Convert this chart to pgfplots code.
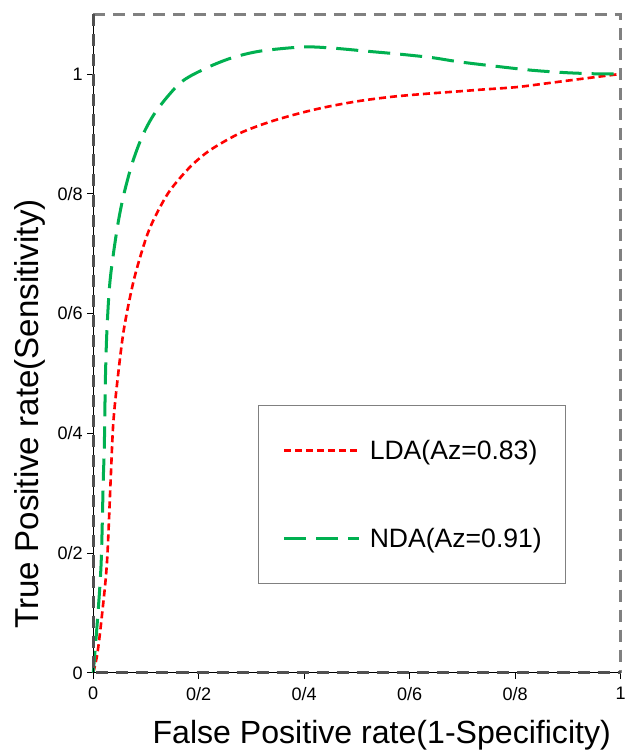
\documentclass[border=0pt]{standalone}
\usepackage{pgfplots}
\pgfplotsset{compat=1.18}
\usepackage{fontspec}
\setmainfont{Liberation Sans}
\definecolor{ndagreen}{RGB}{0,176,80}
\definecolor{ldared}{RGB}{255,0,0}
\definecolor{framegray}{RGB}{128,128,128}
\definecolor{framedark}{RGB}{80,80,80}
\begin{document}
\begin{tikzpicture}
\begin{axis}[
  name=a,
  scale only axis,
  width=526pt, height=657pt,
  xmin=0, xmax=1, ymin=0, ymax=1.1,
  axis line style={draw=none},
  tick align=outside,
  tick pos=left,
  major tick length=6pt,
  tick style={black, line width=0.8pt},
  xtick={0,0.2,0.4,0.6,0.8,1},
  xticklabels={0,0/2,0/4,0/6,0/8,1},
  ytick={0,0.2,0.4,0.6,0.8,1},
  yticklabels={0,0/2,0/4,0/6,0/8,1},
  ticklabel style={font=\fontsize{18}{20}\selectfont},
  xticklabel style={yshift=-5pt},
  yticklabel style={xshift=-1pt},
  xlabel={False Positive rate(1-Specificity)},
  ylabel={True Positive rate(Sensitivity)},
  label style={font=\fontsize{32}{36}\selectfont, inner sep=0pt},
  xlabel style={at={(axis description cs:0.547,-0.107)}, anchor=base},
  ylabel style={at={(axis description cs:-0.104,0.393)}, anchor=base, rotate=0, font=\fontsize{33}{36}\selectfont},
  legend style={
    at={(axis description cs:0.3125,0.4067)}, anchor=north west,
    draw=framegray, line width=0.8pt,
    font=\fontsize{26.5}{30}\selectfont,
    inner xsep=24pt, inner ysep=34.5pt,
    nodes={inner sep=0pt},
    row sep=67pt, column sep=9pt,
  },
  legend cell align=left,
  legend image code/.code={\draw[#1] (0pt,0pt) -- (75pt,0pt);},
  clip=false,
]
\addplot[ldared, line width=2.6pt, dash pattern=on 7pt off 4pt, smooth] table {
x y
0 0
0.008 0.033
0.017 0.10
0.026 0.184
0.033 0.322
0.038 0.417
0.046 0.489
0.058 0.573
0.077 0.656
0.101 0.728
0.121 0.768
0.146 0.806
0.184 0.845
0.222 0.873
0.278 0.901
0.335 0.920
0.390 0.934
0.443 0.945
0.506 0.955
0.568 0.962
0.633 0.967
0.695 0.971
0.739 0.974
0.803 0.978
0.866 0.985
0.928 0.992
1 1
};
\addlegendentry{LDA(Az=0.83)}
\addplot[ndagreen, line width=3pt, dash pattern=on 22pt off 10pt, smooth] table {
x y
0 0
0.008 0.088
0.015 0.184
0.019 0.322
0.021 0.377
0.023 0.489
0.026 0.573
0.032 0.656
0.045 0.74
0.057 0.795
0.074 0.851
0.095 0.90
0.121 0.94
0.165 0.985
0.21 1.008
0.26 1.026
0.316 1.038
0.398 1.045
0.455 1.043
0.518 1.038
0.581 1.033
0.644 1.027
0.695 1.020
0.771 1.012
0.833 1.006
0.898 1.002
0.96 1.0
1 1
};
\addlegendentry{NDA(Az=0.91)}
% frame
\draw[framegray, line width=3pt, dash pattern=on 12pt off 8pt] (rel axis cs:0,1) -- (rel axis cs:1,1) -- (rel axis cs:1,0);
\draw[black, line width=0.8pt] (rel axis cs:0,1) -- (rel axis cs:0,0) -- (rel axis cs:1,0);
\draw[framedark, line width=3pt, dash pattern=on 12pt off 8pt] (rel axis cs:0,1) -- (rel axis cs:0,0) -- (rel axis cs:1,0);
\end{axis}
\pgfresetboundingbox
\path (a.south west) ++(-93pt,-78pt) coordinate (bbl);
\path (a.north east) ++(4pt,14pt) coordinate (bbr);
\path (bbl) rectangle (bbr);
\end{tikzpicture}
\end{document}
